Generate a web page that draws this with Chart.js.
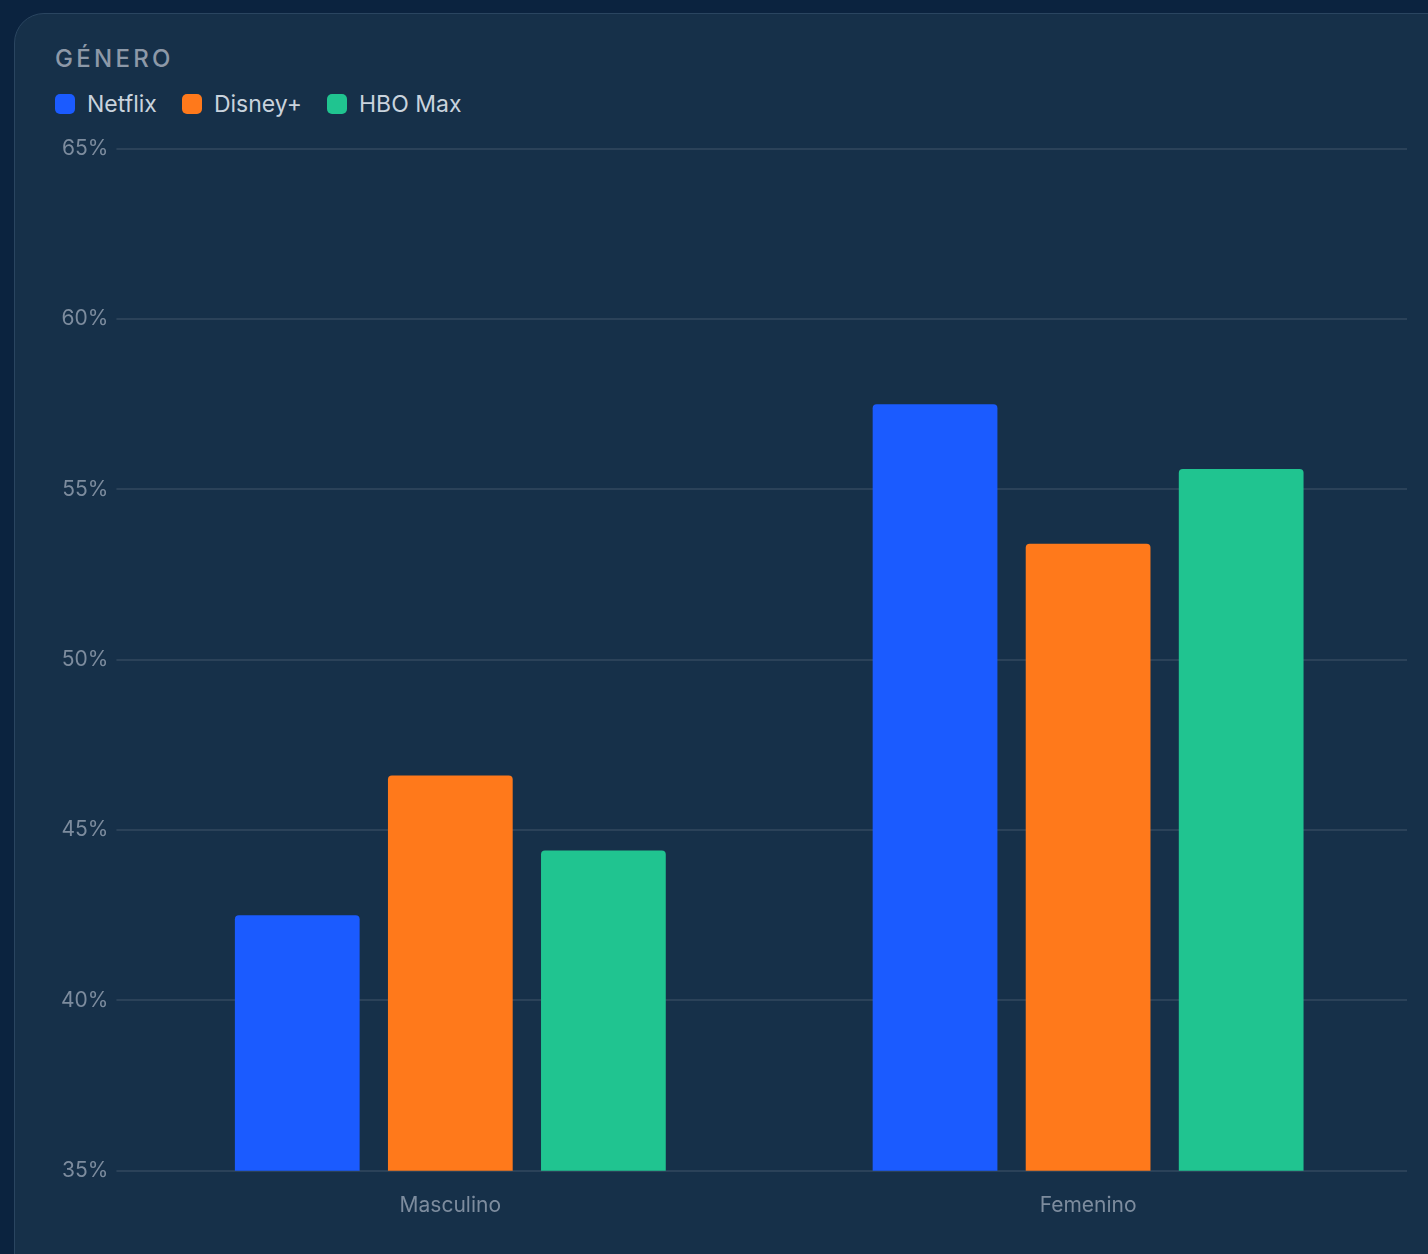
<!DOCTYPE html>
<html>
<head>
<meta charset="utf-8">
<script src="https://cdn.jsdelivr.net/npm/chart.js@4.4.1/dist/chart.umd.min.js"></script>
<style>
  html, body { margin: 0; padding: 0; }
  body {
    width: 1428px; height: 1254px; overflow: hidden;
    background: #0b233f;
    font-family: Inter, "Noto Sans", sans-serif;
  }
  .card {
    position: absolute; left: 14px; top: 13px; width: 1460px; height: 1300px;
    background: #163049; border: 1px solid #2a4560; border-radius: 30px;
    box-sizing: border-box;
  }
  .title {
    position: absolute; left: 55px; top: 44px;
    font-size: 24px; font-weight: 500; letter-spacing: 3.3px; color: #8d99a8;
  }
  .legend { position: absolute; left: 55px; top: 90px; display: flex; gap: 25px; }
  .legend .item { display: flex; align-items: center; font-size: 23px; color: #c9d3dd; }
  .legend .sw { width: 20px; height: 20px; border-radius: 5px; margin-right: 12px; }
  .chartbox { position: absolute; left: 53px; top: 128px; width: 1354px; height: 1104px; }
</style>
</head>
<body>
<div class="card"></div>
<div class="title">GÉNERO</div>
<div class="legend" id="legend"></div>
<div class="chartbox"><canvas id="c"></canvas></div>
<script>
// 성별 분포 막대 차트
const categories = ["Masculino", "Femenino"];
const seriesNames = ["Netflix", "Disney+", "HBO Max"];
const netflix = [42.5, 57.5];
const disney = [46.6, 53.4];
const hbo = [44.4, 55.6];
const colors = ["#1b5bff", "#ff791b", "#20c490"];
const yTicks = [35, 40, 45, 50, 55, 60, 65];

const values = [netflix, disney, hbo];

// 범례 (HTML)
const lg = document.getElementById("legend");
seriesNames.forEach((n, i) => {
  const it = document.createElement("div");
  it.className = "item";
  it.innerHTML = `<span class="sw" style="background:${colors[i]}"></span>${n}`;
  lg.appendChild(it);
});

const tickColor = "#7d8c9e";
const gridColor = "rgba(255,255,255,0.09)";

new Chart(document.getElementById("c").getContext("2d"), {
  type: "bar",
  data: {
    labels: categories,
    datasets: seriesNames.map((n, i) => ({
      label: n,
      data: values[i],
      backgroundColor: colors[i],
      borderRadius: 4,
      barPercentage: 0.815,
      categoryPercentage: 0.72,
    })),
  },
  options: {
    responsive: true,
    maintainAspectRatio: false,
    animation: false,
    layout: { padding: 0 },
    plugins: { legend: { display: false }, tooltip: { enabled: false } },
    scales: {
      x: {
        grid: { display: false },
        border: { display: false },
        ticks: { color: tickColor, font: { family: "Inter", size: 21 }, padding: 14 },
      },
      y: {
        min: yTicks[0],
        max: yTicks[yTicks.length - 1],
        afterBuildTicks: (s) => { s.ticks = yTicks.map(v => ({ value: v })); },
        border: { display: false },
        grid: { color: gridColor, lineWidth: 2, tickLength: 15, tickColor: gridColor },
        ticks: {
          color: tickColor, padding: 8,
          font: { family: "Inter", size: 21 },
          callback: (v) => v + "%",
        },
      },
    },
  },
});
</script>
</body>
</html>
